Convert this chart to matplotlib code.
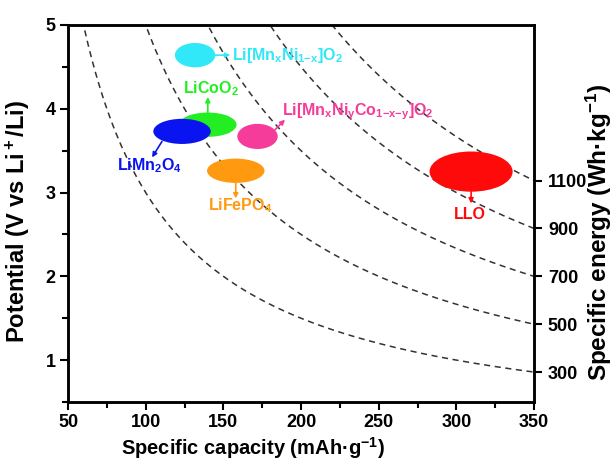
import numpy as np
import matplotlib
matplotlib.use("Agg")
import matplotlib.pyplot as plt
from matplotlib.patches import Ellipse

plt.rcParams['font.family'] = ['Liberation Sans', 'DejaVu Sans']
plt.rcParams['font.weight'] = 'bold'
plt.rcParams['axes.labelweight'] = 'bold'
plt.rcParams['mathtext.fontset'] = 'custom'
plt.rcParams['mathtext.rm'] = 'Liberation Sans:bold'
plt.rcParams['mathtext.bf'] = 'Liberation Sans:bold'
plt.rcParams['mathtext.it'] = 'Liberation Sans:bold'
plt.rcParams['mathtext.default'] = 'rm'

# iso-energy lines (Wh/kg)
energies = [300, 500, 700, 900, 1100]

# cathode materials: capacity range (mAh/g) and potential range (V)
names = ['Li[Mn$_x$Ni$_{1{-}x}$]O$_2$', 'LiCoO$_2$', 'LiMn$_2$O$_4$',
         'Li[Mn$_x$Ni$_y$Co$_{1{-}x{-}y}$]O$_2$', 'LiFePO$_4$', 'LLO']
cap_center = [131.8, 140.0, 123.4, 172.0, 158.0, 309.5]
cap_width = [26, 37, 37, 26, 37, 53.5]
volt_center = [4.64, 3.81, 3.73, 3.67, 3.26, 3.25]
volt_height = [0.29, 0.29, 0.30, 0.30, 0.29, 0.48]
colors = ['#30E8F8', '#22EE22', '#0A14F0', '#F53C9B', '#FF9A10', '#FF0A0A']

# arrow tail / head and label anchor for each material
arrow_tail = [(144.8, 4.64), (140.0, 3.955), (110.5, 3.61), (183.3, 3.75), (158.0, 3.115), (309.5, 3.01)]
arrow_head = [(154.5, 4.64), (140.0, 4.14), (104.1, 3.42), (189.7, 3.87), (158.0, 2.93), (309.5, 2.87)]
label_pos = [(155.6, 4.64), (141.8, 4.24), (102.5, 3.32), (188.0, 3.96), (161.0, 2.84), (308.8, 2.74)]
label_ha = ['left', 'center', 'center', 'left', 'center', 'center']

fig = plt.figure(figsize=(6.16, 4.61), dpi=100)
ax = fig.add_axes([0.1104, 0.128, 0.7565, 0.8178])

capacity = np.linspace(50, 350, 400)
for e in energies:
    ax.plot(capacity, e / capacity, color='#333333', lw=1.1, ls=(0, (4, 3)), zorder=1)

for i in range(len(names)):
    ell = Ellipse((cap_center[i], volt_center[i]), cap_width[i], volt_height[i],
                  facecolor=colors[i], edgecolor='none', zorder=2 + i)
    ax.add_patch(ell)
    ax.annotate('', xy=arrow_head[i], xytext=arrow_tail[i],
                arrowprops=dict(arrowstyle='-|>', color=colors[i], lw=1.2,
                                mutation_scale=7, shrinkA=0, shrinkB=0), zorder=10)
    ax.text(label_pos[i][0], label_pos[i][1], names[i], color=colors[i],
            fontsize=11.5, fontweight='bold', ha=label_ha[i], va='center', zorder=10)

ax.set_xlim(50, 350)
ax.set_ylim(0.5, 5)
ax.set_xticks(np.arange(50, 351, 50))
ax.set_xticks(np.arange(75, 350, 50), minor=True)
ax.set_yticks([1, 2, 3, 4, 5])
ax.set_yticks(np.arange(0.5, 5, 1), minor=True)
ax.tick_params(which='major', direction='out', length=6, width=1.5, labelsize=13)
ax.tick_params(which='minor', direction='out', length=4, width=1.5)
ax.tick_params(axis='y', pad=3)
ax.tick_params(axis='x', pad=3)
for s in ax.spines.values():
    s.set_linewidth(1.8)

ax.set_xlabel('Specific capacity (mAh·g$^{-1}$)', fontsize=14.5, fontweight='bold')
ax.xaxis.set_label_coords(0.397, -0.088)
ax.set_ylabel('Potential (V vs Li$^+$/Li)', fontsize=17, fontweight='bold')
ax.yaxis.set_label_coords(-0.077, 0.48)

ax2 = ax.twinx()
ax2.set_ylim(0.5, 5)
ax2.set_yticks([e / 350 for e in energies])
ax2.set_yticklabels([str(e) for e in energies])
ax2.tick_params(direction='out', length=6, width=1.5, labelsize=13, pad=4)
for s in ax2.spines.values():
    s.set_linewidth(1.8)
ax2.set_ylabel('Specific energy (Wh·kg$^{-1}$)', fontsize=17.5, fontweight='bold')
ax2.yaxis.set_label_coords(1.106, 0.45)

for lab in ax.get_xticklabels() + ax.get_yticklabels() + ax2.get_yticklabels():
    lab.set_fontweight('bold')

fig.savefig('out.png', dpi=100)
